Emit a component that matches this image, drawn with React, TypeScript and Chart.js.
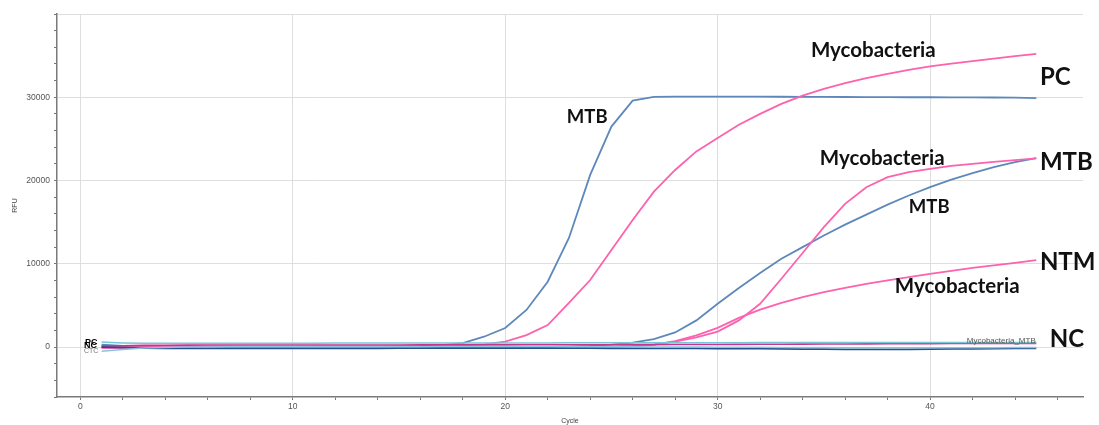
import React, { useEffect, useRef } from "react";
import { Chart, registerables } from "chart.js";

Chart.register(...registerables);

// ---- data ----
const cycles = [1,2,3,4,5,6,7,8,9,10,11,12,13,14,15,16,17,18,19,20,21,22,23,24,25,26,27,28,29,30,31,32,33,34,35,36,37,38,39,40,41,42,43,44,45];

// PC sample
const pcMtb = [150,100,80,60,50,40,40,30,30,30,40,40,50,60,80,120,220,480,1240,2280,4450,7850,13100,20670,26480,29600,30050,30080,30080,30080,30080,30070,30060,30050,30040,30030,30020,30010,30000,30000,29990,29980,29970,29960,29900];
const pcMyco = [-100,-60,-40,-30,-20,-20,-10,-10,0,0,0,10,10,20,30,50,90,170,330,640,1440,2640,5290,8050,11660,15260,18670,21270,23500,25100,26700,28000,29200,30200,31000,31700,32300,32800,33300,33700,34050,34350,34650,34950,35200];

// MTB sample
const mtbMtb = [300,150,50,0,-30,-50,-60,-60,-60,-60,-50,-50,-40,-40,-30,-30,-20,-20,-10,0,10,30,60,130,280,520,950,1750,3200,5200,7100,8900,10600,12000,13400,14700,15900,17100,18200,19200,20100,20900,21600,22200,22700];
const mtbMyco = [-50,-30,-20,-20,-10,-10,-10,0,0,0,0,0,0,0,0,0,0,0,0,0,0,10,10,20,50,120,300,650,1150,1850,3200,5200,8200,11300,14400,17200,19200,20400,21000,21400,21750,22000,22250,22450,22650];

// NTM sample
const ntmMyco = [-80,-50,-30,-20,-20,-10,-10,-10,0,0,0,0,0,0,0,0,0,0,0,0,0,0,10,20,30,100,300,700,1400,2300,3500,4500,5300,6000,6600,7100,7600,8000,8400,8800,9150,9500,9800,10100,10450];
const ntmMtb = [-500,-300,-120,-40,0,20,30,30,40,40,40,50,50,50,50,50,60,60,60,60,60,60,50,50,40,30,20,10,0,-10,-20,-30,-40,-50,-60,-70,-80,-80,-80,-80,-80,-70,-70,-60,-60];

// NC sample
const ncMtb = [0,-80,-120,-150,-160,-170,-170,-170,-160,-160,-150,-150,-150,-150,-140,-140,-140,-140,-130,-130,-130,-130,-140,-140,-150,-150,-160,-160,-170,-180,-190,-200,-220,-240,-260,-280,-290,-290,-280,-260,-230,-210,-190,-170,-160];
const ncMyco = [100,150,200,220,230,240,240,250,250,250,250,250,250,250,250,260,260,260,260,260,270,270,270,280,280,290,290,300,300,310,320,330,340,350,360,370,380,390,400,410,420,430,430,440,440];
const ncIc = [600,500,450,450,450,460,460,460,470,470,470,480,480,480,480,490,490,490,500,500,500,500,510,510,510,520,520,520,530,530,530,540,540,540,550,550,550,550,560,560,560,560,560,560,560];

const xTickLabels = [0, 10, 20, 30, 40];
const yTickLabels = [0, 10000, 20000, 30000];

// ---- styles / annotations (layout, not data) ----
const BLUE = "#5f88ba";
const PINK = "#fc62ae";
const DARKBLUE = "#24508f";
const DARKPINK = "#c8338e";
const TEAL = "#79c6d6";
const LIGHTBLUE = "#8ec3dc";

const annotations = [
  { text: "Mycobacteria", cycle: 34.39, rfu: 34866, size: 20.5 },
  { text: "PC", cycle: 45.17, rfu: 31468, size: 24 },
  { text: "MTB", cycle: 22.9, rfu: 26903, size: 18.5 },
  { text: "Mycobacteria", cycle: 34.81, rfu: 21859, size: 20.5 },
  { text: "MTB", cycle: 45.17, rfu: 21259, size: 24 },
  { text: "MTB", cycle: 39.0, rfu: 16058, size: 18.5 },
  { text: "NTM", cycle: 45.17, rfu: 9248, size: 24 },
  { text: "Mycobacteria", cycle: 38.34, rfu: 6486, size: 20.5 },
  { text: "NC", cycle: 45.64, rfu: 60, size: 24 },
];

const annotationPlugin = {
  id: "annotationLabels",
  afterDatasetsDraw(chart: any) {
    const { ctx, scales } = chart;
    const xs = scales.x;
    const ys = scales.y;
    ctx.save();
    ctx.textAlign = "left";
    ctx.textBaseline = "alphabetic";
    for (const a of annotations) {
      ctx.font = `bold ${a.size}px Lato, "Open Sans", sans-serif`;
      ctx.fillStyle = "#111";
      ctx.fillText(a.text, xs.getPixelForValue(a.cycle), ys.getPixelForValue(a.rfu));
    }
    // small well label at the right end of the NC traces
    ctx.font = `8px "Liberation Sans", sans-serif`;
    ctx.fillStyle = "#555";
    ctx.fillText("Mycobacteria_MTB", xs.getPixelForValue(41.73), ys.getPixelForValue(480));
    // overlapping black well labels at the start of the traces
    ctx.font = `bold 9px "Liberation Sans", sans-serif`;
    ctx.fillStyle = "#000";
    ctx.fillText("NC", xs.getPixelForValue(0.17), ys.getPixelForValue(-100));
    ctx.fillText("PC", xs.getPixelForValue(0.22), ys.getPixelForValue(300));
    ctx.font = `7px "Liberation Sans", sans-serif`;
    ctx.fillStyle = "#777";
    ctx.fillText("CTC", xs.getPixelForValue(0.17), ys.getPixelForValue(-750));
    ctx.restore();
  },
};

function ds(label: string, data: number[], color: string, width = 1.8) {
  return {
    label,
    data: cycles.map((c, i) => ({ x: c, y: data[i] })),
    borderColor: color,
    backgroundColor: color,
    borderWidth: width,
    pointRadius: 0,
    tension: 0,
    fill: false,
  };
}

export default function App() {
  const canvasRef = useRef<HTMLCanvasElement | null>(null);

  useEffect(() => {
    if (!canvasRef.current) return;
    const chart = new Chart(canvasRef.current, {
      type: "line",
      data: {
        datasets: [
          ds("NC IC", ncIc, TEAL, 1.5),
          ds("NTM MTB", ntmMtb, LIGHTBLUE, 1.5),
          ds("NC MTB", ncMtb, DARKBLUE, 1.8),
          ds("NC Mycobacteria", ncMyco, DARKPINK, 1.6),
          ds("NTM Mycobacteria", ntmMyco, PINK),
          ds("MTB Mycobacteria", mtbMyco, PINK),
          ds("MTB MTB", mtbMtb, BLUE),
          ds("PC Mycobacteria", pcMyco, PINK),
          ds("PC MTB", pcMtb, BLUE),
        ],
      },
      options: {
        animation: false,
        responsive: false,
        maintainAspectRatio: false,
        layout: { padding: { top: 14, right: 16, left: 0, bottom: 0 } },
        plugins: { legend: { display: false }, tooltip: { enabled: false } },
        scales: {
          x: {
            type: "linear",
            min: -1.1,
            max: 47.2,
            border: { display: true, color: "#7a7a7a", width: 1.5 },
            grid: {
              color: (c: any) => (c.tick && xTickLabels.includes(c.tick.value) ? "#dedede" : "rgba(0,0,0,0)"),
              tickColor: "#777",
              tickLength: 3,
              lineWidth: 1,
            },
            ticks: {
              stepSize: 2,
              includeBounds: false,
              autoSkip: false,
              maxRotation: 0,
              padding: 2,
              color: "#555",
              font: { size: 8.5, family: "'Liberation Sans', sans-serif" },
              callback: (v: any) => (xTickLabels.includes(Number(v)) ? String(v) : ""),
            },
            title: {
              display: true,
              text: "Cycle",
              color: "#444",
              font: { size: 7, family: "'Liberation Sans', sans-serif", lineHeight: 1 },
              padding: { top: 0, bottom: 0 },
            },
            afterFit: (s: any) => {
              s.height = 28;
            },
          },
          y: {
            type: "linear",
            min: -6000,
            max: 40000,
            border: { display: true, color: "#7a7a7a", width: 1.5 },
            grid: {
              color: (c: any) =>
                c.tick && (yTickLabels.includes(c.tick.value) || c.tick.value === 40000) ? "#dedede" : "rgba(0,0,0,0)",
              tickColor: "#777",
              tickLength: 3,
              lineWidth: 1,
            },
            ticks: {
              stepSize: 2000,
              includeBounds: false,
              autoSkip: false,
              padding: 4,
              color: "#555",
              font: { size: 8.5, family: "'Liberation Sans', sans-serif" },
              callback: (v: any) => (yTickLabels.includes(Number(v)) ? String(v) : ""),
            },
            title: {
              display: true,
              text: "RFU",
              color: "#444",
              font: { size: 7, family: "'Liberation Sans', sans-serif", lineHeight: 1 },
              padding: { top: 12, bottom: 0 },
            },
            afterFit: (s: any) => {
              s.width = 57;
            },
          },
        },
      },
      plugins: [annotationPlugin],
    });
    return () => chart.destroy();
  }, []);

  return (
    <div style={{ position: "fixed", left: 0, top: 0, width: 1099, height: 425, background: "#fff" }}>
      <canvas ref={canvasRef} width={1099} height={425} style={{ width: 1099, height: 425 }} />
    </div>
  );
}
